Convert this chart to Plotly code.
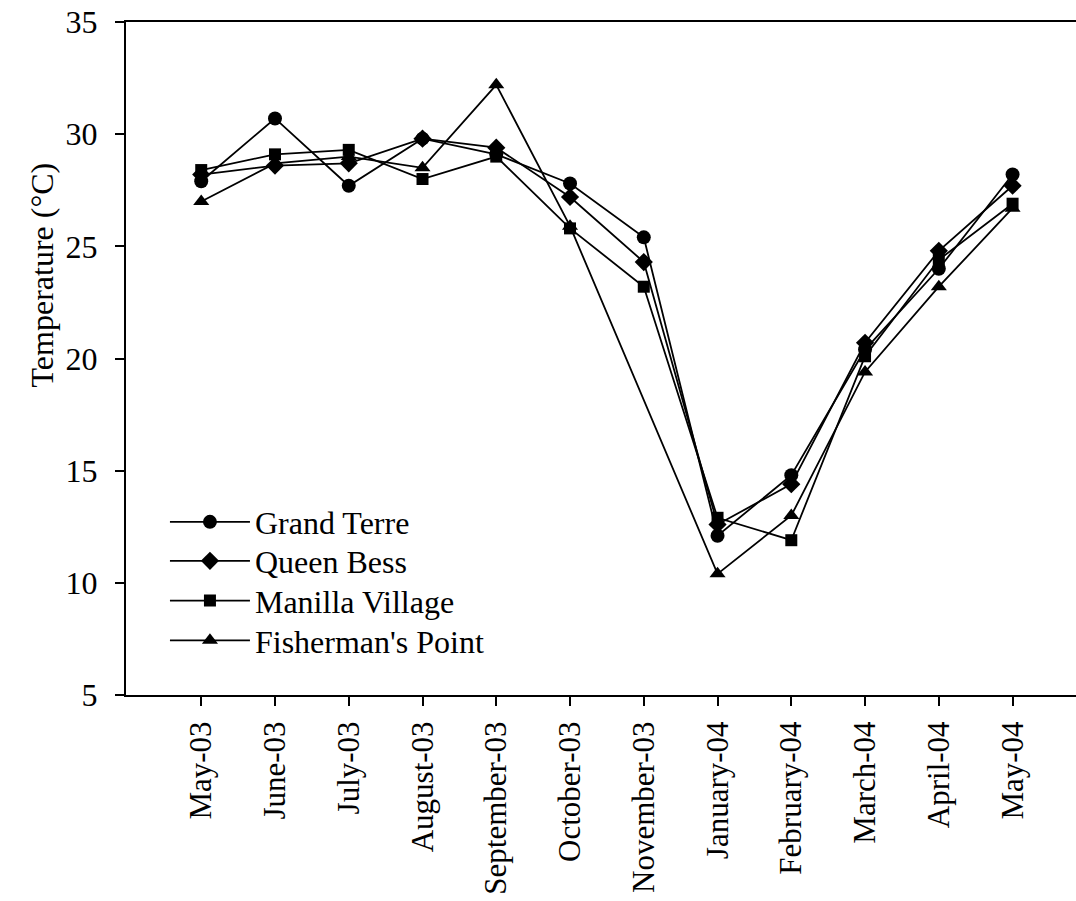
import plotly.graph_objects as go

months = ["May-03", "June-03", "July-03", "August-03", "September-03", "October-03",
          "November-03", "January-04", "February-04", "March-04", "April-04", "May-04"]

grand_terre = [27.9, 30.7, 27.7, 29.8, 29.1, 27.8, 25.4, 12.1, 14.8, 20.4, 24.0, 28.2]
queen_bess = [28.2, 28.6, 28.7, 29.8, 29.4, 27.2, 24.3, 12.6, 14.4, 20.7, 24.8, 27.7]
manilla_village = [28.4, 29.1, 29.3, 28.0, 29.0, 25.8, 23.2, 12.9, 11.9, 20.1, 24.4, 26.9]
fishermans_point = [27.0, 28.7, 29.0, 28.5, 32.2, 25.9, None, 10.4, 13.0, 19.4, 23.2, 26.7]

series = [
    ("Grand Terre", grand_terre, "circle", 14),
    ("Queen Bess", queen_bess, "diamond", 14),
    ("Manilla Village", manilla_village, "square", 12),
    ("Fisherman's Point", fishermans_point, "triangle-up", 14),
]

FONT = "Liberation Serif, Times New Roman, serif"
FS = 32
FS_X = 31

# one legend per series so the rows can be spaced like the original
legend_ids = ["legend", "legend2", "legend3", "legend4"]
legend_rows_y = [0.257, 0.199, 0.140, 0.081]

fig = go.Figure()
for (name, vals, sym, sz), lid in zip(series, legend_ids):
    fig.add_trace(go.Scatter(
        x=months, y=vals, name=name, mode="lines+markers",
        connectgaps=True, legend=lid,
        line=dict(color="black", width=1.8),
        marker=dict(symbol=sym, size=sz, color="black", line=dict(width=0)),
    ))

legend_common = dict(
    x=0.041, xanchor="left", yanchor="middle",
    bgcolor="rgba(0,0,0,0)", borderwidth=0,
    font=dict(family=FONT, size=FS, color="black"),
    itemwidth=80,
)

layout_legends = {lid: dict(legend_common, y=yy) for lid, yy in zip(legend_ids, legend_rows_y)}

fig.update_layout(
    width=1076, height=901,
    margin=dict(l=126, r=0, t=22, b=206),
    paper_bgcolor="white", plot_bgcolor="white",
    font=dict(family=FONT, size=FS, color="black"),
    showlegend=True,
    **layout_legends,
)

fig.add_annotation(
    text="Temperature (°C)", textangle=-90,
    xref="paper", yref="paper", x=-0.088, y=0.624,
    xanchor="center", yanchor="middle", showarrow=False,
    font=dict(family=FONT, size=FS, color="black"),
)

fig.update_xaxes(
    type="category", range=[-1.02, 11.86], automargin=False,
    showline=True, linecolor="black", linewidth=2, mirror=True,
    ticks="outside", ticklen=9, tickwidth=1.5, tickcolor="black",
    tickangle=-90, ticklabelstandoff=3,
    showgrid=False, zeroline=False,
    tickfont=dict(family=FONT, size=FS_X, color="black"),
)
fig.update_yaxes(
    range=[5, 35], tickmode="linear", tick0=5, dtick=5, automargin=False,
    showline=True, linecolor="black", linewidth=2, mirror=False,
    ticks="outside", ticklen=9, tickwidth=1.5, tickcolor="black",
    ticklabelstandoff=11,
    showgrid=False, zeroline=False,
    tickfont=dict(family=FONT, size=FS, color="black"),
)

fig.write_html("out.html")
